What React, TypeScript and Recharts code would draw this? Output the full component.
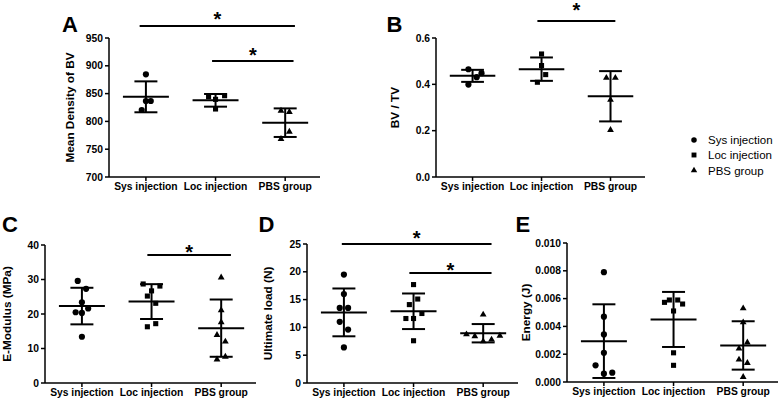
import { ScatterChart, Scatter, XAxis, YAxis, ReferenceLine, Symbols } from "recharts";

const FONT = '"Liberation Sans", Arial, Helvetica, sans-serif';

// categories
const groupNames = ["Sys injection", "Loc injection", "PBS group"];
const groupShapes = ["circle", "square", "triangle"] as const;
const groupSizes = [30, 26, 20];

// A – Mean density of BV
const aSys = [884.7, 836.7, 836.7, 820.5];
const aSysDx = [0, 0, 0.07, -0.06];
const aLoc = [844.4, 846.2, 839.7, 822.3];
const aLocDx = [-0.1, 0.13, 0, 0];
const aPbs = [819.3, 816.9, 781.5, 768.3];
const aPbsDx = [-0.06, 0.06, 0.06, -0.06];
const aMean = [844.2, 837.9, 797.7];
const aSd = [27.8, 11.4, 25.7];
const aTicks = [700, 750, 800, 850, 900, 950];

// B – BV / TV
const bSys = [0.465, 0.399, 0.431, 0.448];
const bSysDx = [-0.06, -0.06, 0.06, 0.13];
const bLoc = [0.531, 0.481, 0.442, 0.409];
const bLocDx = [0, 0, 0.06, -0.06];
const bPbs = [0.428, 0.428, 0.333, 0.203];
const bPbsDx = [-0.06, 0.07, 0, 0];
const bMean = [0.4366, 0.4655, 0.3485];
const bSd = [0.026, 0.0505, 0.1085];
const bTicks = [0, 0.2, 0.4, 0.6];

// C – E-Modulus
const cSys = [29.6, 27.3, 23.4, 20.5, 20.3, 21.6, 13.4];
const cSysDx = [-0.06, 0.06, 0, -0.09, 0, 0.09, 0];
const cLoc = [28.7, 28.1, 26.7, 25.2, 23.1, 17.2, 16.3];
const cLocDx = [-0.12, 0.12, 0, -0.06, 0.06, 0.06, -0.06];
const cPbs = [30.6, 21.1, 17.6, 13.9, 12.0, 7.6, 6.8];
const cPbsDx = [0, 0, 0, -0.06, 0.06, 0.06, -0.06];
const cMean = [22.3, 23.6, 15.9];
const cSd = [5.3, 5.05, 8.3];
const cTicks = [0, 10, 20, 30, 40];

// D – Ultimate load
const dSys = [19.5, 16.0, 13.5, 13.5, 11.0, 9.6, 6.4];
const dSysDx = [0, 0, -0.06, 0.06, -0.06, 0.06, 0];
const dLoc = [17.7, 15.1, 14.1, 12.5, 11.6, 11.6, 7.6];
const dLocDx = [0, 0.06, -0.06, 0.12, -0.11, 0, 0];
const dPbs = [12.3, 8.75, 8.4, 7.5, 7.8, 8.5];
const dPbsDx = [0, -0.24, -0.12, 0, 0.12, 0.24];
const dMean = [12.7, 12.9, 8.95];
const dSd = [4.3, 3.2, 1.65];
const dTicks = [0, 5, 10, 15, 20, 25];

// E – Energy
const eSys = [0.0079, 0.0047, 0.00342, 0.0021, 0.0012, 0.0006, 0.00067];
const eSysDx = [0, 0, 0, 0, -0.12, 0, 0.12];
const eLoc = [0.00573, 0.0059, 0.0059, 0.00561, 0.00511, 0.0021, 0.0012];
const eLocDx = [-0.13, -0.06, 0.06, 0.13, 0, 0, 0];
const ePbs = [0.0053, 0.00429, 0.00284, 0.0024, 0.00161, 0.00137, 0.00036];
const ePbsDx = [0, 0, 0.06, -0.06, -0.06, 0.06, 0];
const eMean = [0.00294, 0.0045, 0.00263];
const eSd = [0.00265, 0.00198, 0.00174];
const eTicks = [0, 0.002, 0.004, 0.006, 0.008, 0.01];

/* ---------- layout ---------- */

const X_DOMAIN: [number, number] = [0.47, 3.5];
const Y_W = 40;
const X_H = 22;
const MEAN_HALF = 0.33;
const CAP_HALF = 0.165;

type Sig = { from: number; to: number; y: number; gap: number };
type Box = { left: number; top: number; width: number; height: number };
type Plot = { left: number; top: number; right: number; bottom: number };

interface PanelProps {
  box: Box;
  plot: Plot;
  labelX: number;
  yLabel: string;
  domain: [number, number];
  ticks: number[];
  digits: number;
  values: number[][];
  offsets: number[][];
  means: number[];
  sds: number[];
  sigs: Sig[];
}

const axisStroke = { stroke: "#000", strokeWidth: 1.5 };
const tickStyle = { fill: "#000", fontSize: 10.3, fontWeight: "bold", fontFamily: FONT };

function dotShape(g: number) {
  // eslint-disable-next-line @typescript-eslint/no-explicit-any
  return (props: any) => (
    <Symbols cx={props.cx} cy={props.cy} type={groupShapes[g]} size={groupSizes[g]} fill="#000" />
  );
}

function Panel(p: PanelProps) {
  const margin = {
    top: p.plot.top - p.box.top,
    bottom: p.box.top + p.box.height - p.plot.bottom - X_H,
    left: p.plot.left - p.box.left - Y_W,
    right: p.box.left + p.box.width - p.plot.right,
  };
  const titleX = p.labelX - p.box.left;
  const titleY = (p.plot.top + p.plot.bottom) / 2 - p.box.top;

  return (
    <div style={{ position: "absolute", left: p.box.left, top: p.box.top }}>
      <ScatterChart width={p.box.width} height={p.box.height} margin={margin}>
        <XAxis
          type="number"
          dataKey="x"
          domain={X_DOMAIN}
          allowDataOverflow
          ticks={[1, 2, 3]}
          interval={0}
          tickFormatter={(v: number) => groupNames[v - 1]}
          height={X_H}
          tickSize={4}
          tickMargin={2}
          axisLine={axisStroke}
          tickLine={axisStroke}
          tick={tickStyle}
        />
        <YAxis
          type="number"
          dataKey="y"
          domain={p.domain}
          allowDataOverflow
          ticks={p.ticks}
          interval={0}
          tickFormatter={(v: number) => v.toFixed(p.digits)}
          width={Y_W}
          tickSize={4}
          tickMargin={2}
          axisLine={axisStroke}
          tickLine={axisStroke}
          tick={tickStyle}
          label={() => (
            <text
              x={titleX}
              y={titleY}
              transform={`rotate(-90 ${titleX} ${titleY})`}
              textAnchor="middle"
              dominantBaseline="central"
              fill="#000"
              fontSize={11.8}
              fontWeight="bold"
              fontFamily={FONT}
            >
              {p.yLabel}
            </text>
          )}
        />

        {p.values.map((vals, g) => (
          <Scatter
            key={`s${g}`}
            data={vals.map((y, i) => ({ x: g + 1 + p.offsets[g][i], y }))}
            fill="#000"
            shape={dotShape(g)}
            isAnimationActive={false}
          />
        ))}

        {/* mean ± SD */}
        {p.means.map((m, g) => {
          const c = g + 1;
          const lo = m - p.sds[g];
          const hi = m + p.sds[g];
          return [
            <ReferenceLine
              key={`m${g}`}
              segment={[{ x: c - MEAN_HALF, y: m }, { x: c + MEAN_HALF, y: m }]}
              stroke="#000"
              strokeWidth={2}
              ifOverflow="visible"
            />,
            <ReferenceLine
              key={`v${g}`}
              segment={[{ x: c, y: lo }, { x: c, y: hi }]}
              stroke="#000"
              strokeWidth={2}
              ifOverflow="visible"
            />,
            <ReferenceLine
              key={`h${g}`}
              segment={[{ x: c - CAP_HALF, y: hi }, { x: c + CAP_HALF, y: hi }]}
              stroke="#000"
              strokeWidth={2}
              ifOverflow="visible"
            />,
            <ReferenceLine
              key={`l${g}`}
              segment={[{ x: c - CAP_HALF, y: lo }, { x: c + CAP_HALF, y: lo }]}
              stroke="#000"
              strokeWidth={2}
              ifOverflow="visible"
            />,
          ];
        })}

        {/* significance bars */}
        {p.sigs.map((s, i) => (
          <ReferenceLine
            key={`sig${i}`}
            segment={[{ x: s.from, y: s.y }, { x: s.to, y: s.y }]}
            stroke="#000"
            strokeWidth={2}
            ifOverflow="visible"
            label={{
              value: "*",
              position: "top",
              offset: s.gap - 11.5,
              fill: "#000",
              fontSize: 20,
              fontWeight: "bold",
              fontFamily: FONT,
            }}
          />
        ))}
      </ScatterChart>
    </div>
  );
}

const letters = [
  { t: "A", x: 62, y: 32 },
  { t: "B", x: 386.5, y: 32 },
  { t: "C", x: 2, y: 232 },
  { t: "D", x: 258.5, y: 232 },
  { t: "E", x: 515.5, y: 232 },
];

const legendRows = [140, 155, 170.5];

export default function App() {
  return (
    <div
      style={{
        position: "absolute",
        left: 0,
        top: 0,
        width: 778,
        height: 402,
        background: "#fff",
        overflow: "hidden",
        fontFamily: FONT,
      }}
    >
      <Panel
        box={{ left: 0, top: 0, width: 330, height: 200 }}
        plot={{ left: 109, top: 38, right: 320, bottom: 177 }}
        labelX={70}
        yLabel="Mean Density of BV"
        domain={[700, 950]}
        ticks={aTicks}
        digits={0}
        values={[aSys, aLoc, aPbs]}
        offsets={[aSysDx, aLocDx, aPbsDx]}
        means={aMean}
        sds={aSd}
        sigs={[
          { from: 0.91, to: 3.14, y: 971.6, gap: 11 },
          { from: 1.95, to: 3.12, y: 908.6, gap: 11 },
        ]}
      />
      <Panel
        box={{ left: 330, top: 0, width: 330, height: 200 }}
        plot={{ left: 436, top: 38, right: 645, bottom: 177 }}
        labelX={395}
        yLabel="BV / TV"
        domain={[0, 0.6]}
        ticks={bTicks}
        digits={1}
        values={[bSys, bLoc, bPbs]}
        offsets={[bSysDx, bLocDx, bPbsDx]}
        means={bMean}
        sds={bSd}
        sigs={[{ from: 1.94, to: 3.07, y: 0.673, gap: 16 }]}
      />
      <Panel
        box={{ left: 0, top: 200, width: 258, height: 202 }}
        plot={{ left: 45, top: 245, right: 256, bottom: 383 }}
        labelX={6.5}
        yLabel="E-Modulus (MPa)"
        domain={[0, 40]}
        ticks={cTicks}
        digits={0}
        values={[cSys, cLoc, cPbs]}
        offsets={[cSysDx, cLocDx, cPbsDx]}
        means={cMean}
        sds={cSd}
        sigs={[{ from: 1.94, to: 3.14, y: 37.1, gap: 8 }]}
      />
      <Panel
        box={{ left: 258, top: 200, width: 262, height: 202 }}
        plot={{ left: 307, top: 244, right: 518, bottom: 383 }}
        labelX={268}
        yLabel="Ultimate load (N)"
        domain={[0, 25]}
        ticks={dTicks}
        digits={0}
        values={[dSys, dLoc, dPbs]}
        offsets={[dSysDx, dLocDx, dPbsDx]}
        means={dMean}
        sds={dSd}
        sigs={[
          { from: 0.97, to: 3.12, y: 25, gap: 11 },
          { from: 1.94, to: 3.12, y: 19.8, gap: 7 },
        ]}
      />
      <Panel
        box={{ left: 505, top: 200, width: 273, height: 202 }}
        plot={{ left: 567, top: 243, right: 778, bottom: 382 }}
        labelX={526}
        yLabel="Energy (J)"
        domain={[0, 0.01]}
        ticks={eTicks}
        digits={3}
        values={[eSys, eLoc, ePbs]}
        offsets={[eSysDx, eLocDx, ePbsDx]}
        means={eMean}
        sds={eSd}
        sigs={[]}
      />

      {/* panel letters + legend */}
      <svg
        width={778}
        height={402}
        style={{ position: "absolute", left: 0, top: 0, pointerEvents: "none" }}
      >
        {letters.map((l) => (
          <text key={l.t} x={l.x} y={l.y} fontSize={22} fontWeight="bold" fontFamily={FONT} fill="#000">
            {l.t}
          </text>
        ))}
        {groupNames.map((name, i) => (
          <g key={name}>
            <Symbols cx={694} cy={legendRows[i]} type={groupShapes[i]} size={i === 2 ? 18 : 24} fill="#000" />
            <text x={708} y={legendRows[i] + 4.1} fontSize={11.5} fontFamily={FONT} fill="#000">
              {name}
            </text>
          </g>
        ))}
      </svg>
    </div>
  );
}
